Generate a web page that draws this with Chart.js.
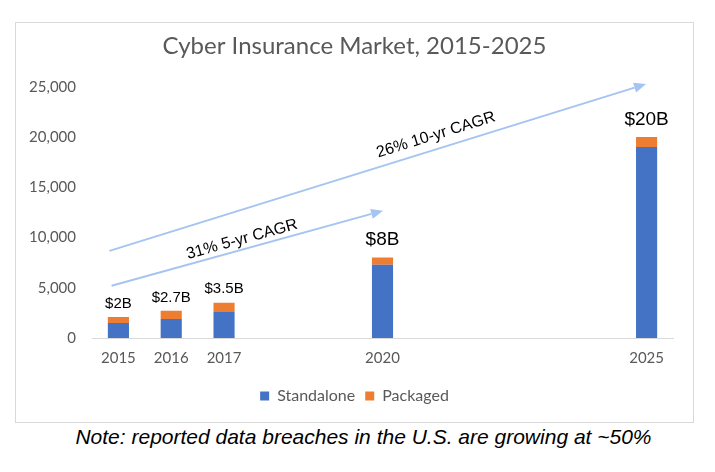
<!DOCTYPE html>
<html>
<head>
<meta charset="utf-8">
<script src="https://cdn.jsdelivr.net/npm/chart.js@4"></script>
<style>
    html, body { margin: 0; padding: 0; background: #fff; }
    #chartBox {
        position: absolute;
        left: 15px; top: 22px;
        width: 677px; height: 399px;
        border: 1px solid #d9d9d9;
    }
    #note {
        position: absolute;
        left: 6px; top: 425px; width: 715px;
        text-align: center;
        font: italic 21px "Liberation Sans", Arial, sans-serif;
        color: #000;
    }
</style>
</head>
<body>
<div id="chartBox"><canvas id="chart" width="677" height="399"></canvas></div>
<div id="note">Note: reported data breaches in the U.S. are growing at ~50%</div>
<script>
'use strict';

// years on the axis (gaps are years with no bar)
const years = ['2015', '2016', '2017', '2018', '2019', '2020', '2021', '2022', '2023', '2024', '2025'];
const standalone = [1500, 1900, 2600, null, null, 7300, null, null, null, null, 19000];
const packaged = [600, 800, 900, null, null, 700, null, null, null, null, 1000];
const totalLabels = ['$2B', '$2.7B', '$3.5B', null, null, '$8B', null, null, null, null, '$20B'];
const yTicks = [0, 5000, 10000, 15000, 20000, 25000];

// growth arrows, in axis units (x = year index, y = value)
const arrows = [
    { from: [-0.17, 8670], to: [9.99, 25270], text: '26% 10-yr CAGR', at: [6.01, 20200] },
    { from: [-0.13, 5200], to: [5.01, 12670], text: '31% 5-yr CAGR', at: [2.34, 9800] }
];

const GRAY = '#595959';
const ARROW_COLOR = '#a6c4f2';

const totalsPlugin = {
    id: 'totals',
    afterDatasetsDraw(chart) {
        const ctx = chart.ctx;
        const x = chart.scales.x;
        const y = chart.scales.y;
        ctx.save();
        ctx.fillStyle = '#000';
        ctx.textAlign = 'center';
        ctx.textBaseline = 'bottom';
        for (let i = 0; i < years.length; i++) {
            if (!totalLabels[i]) continue;
            const total = standalone[i] + packaged[i];
            const big = total >= 5000;
            ctx.font = (big ? 19 : 15) + 'px "Liberation Sans", Arial, sans-serif';
            ctx.fillText(totalLabels[i], x.getPixelForValue(i), y.getPixelForValue(total) - (big ? 8 : 6));
        }
        ctx.restore();
    }
};

const arrowsPlugin = {
    id: 'arrows',
    afterDraw(chart) {
        const ctx = chart.ctx;
        const x = chart.scales.x;
        const y = chart.scales.y;
        ctx.save();
        arrows.forEach((a) => {
            const x0 = x.getPixelForValue(a.from[0]);
            const y0 = y.getPixelForValue(a.from[1]);
            const x1 = x.getPixelForValue(a.to[0]);
            const y1 = y.getPixelForValue(a.to[1]);
            const ang = Math.atan2(y1 - y0, x1 - x0);
            const head = 12;
            ctx.strokeStyle = ARROW_COLOR;
            ctx.fillStyle = ARROW_COLOR;
            ctx.lineWidth = 2;
            ctx.beginPath();
            ctx.moveTo(x0, y0);
            ctx.lineTo(x1 - head * Math.cos(ang), y1 - head * Math.sin(ang));
            ctx.stroke();
            ctx.beginPath();
            ctx.moveTo(x1, y1);
            ctx.lineTo(x1 - head * Math.cos(ang) + 5 * Math.sin(ang), y1 - head * Math.sin(ang) - 5 * Math.cos(ang));
            ctx.lineTo(x1 - head * Math.cos(ang) - 5 * Math.sin(ang), y1 - head * Math.sin(ang) + 5 * Math.cos(ang));
            ctx.closePath();
            ctx.fill();

            ctx.save();
            ctx.translate(x.getPixelForValue(a.at[0]), y.getPixelForValue(a.at[1]));
            ctx.rotate(ang);
            ctx.fillStyle = '#000';
            ctx.font = '16px "Liberation Sans", Arial, sans-serif';
            ctx.textAlign = 'center';
            ctx.textBaseline = 'middle';
            ctx.fillText(a.text, 0, 0);
            ctx.restore();
        });
        ctx.restore();
    }
};

new Chart(document.getElementById('chart'), {
    type: 'bar',
    data: {
        labels: years,
        datasets: [
            { label: 'Standalone', data: standalone, backgroundColor: '#4472c4' },
            { label: 'Packaged', data: packaged, backgroundColor: '#ed7d31' }
        ]
    },
    options: {
        responsive: false,
        animation: false,
        barPercentage: 0.4,
        categoryPercentage: 1.0,
        layout: { padding: { left: 0, right: 0, top: 0, bottom: 8 } },
        plugins: {
            title: {
                display: true,
                text: 'Cyber Insurance Market, 2015-2025',
                color: GRAY,
                font: { family: 'Lato', size: 24, weight: 'normal' },
                padding: { top: 9, bottom: 26 }
            },
            legend: {
                position: 'bottom',
                labels: {
                    color: GRAY,
                    font: { family: 'Lato', size: 16 },
                    boxWidth: 9,
                    boxHeight: 9,
                    padding: 10
                }
            },
            tooltip: { enabled: false }
        },
        scales: {
            x: {
                stacked: true,
                grid: { display: false, drawTicks: false },
                border: { display: true, color: '#d9d9d9', width: 1 },
                ticks: {
                    color: GRAY,
                    font: { family: 'Lato', size: 15 },
                    padding: 11,
                    autoSkip: false,
                    maxRotation: 0,
                    callback: (v, i) => (standalone[i] === null ? '' : years[i])
                }
            },
            y: {
                stacked: true,
                min: 0,
                max: 25000,
                afterFit: (scale) => { scale.width = 76; },
                afterBuildTicks: (scale) => { scale.ticks = yTicks.map((v) => ({ value: v })); },
                grid: { display: false, drawTicks: false },
                border: { display: false },
                ticks: {
                    color: GRAY,
                    font: { family: 'Lato', size: 15 },
                    padding: 16,
                    callback: (v) => v.toLocaleString('en-US')
                }
            },
            // empty right margin so title and legend stay centred on the whole box
            gap: {
                position: 'right',
                min: 0,
                max: 1,
                afterFit: (scale) => { scale.width = 20; },
                grid: { display: false, drawTicks: false },
                border: { display: false },
                ticks: { display: false }
            }
        }
    },
    plugins: [totalsPlugin, arrowsPlugin]
});
</script>
</body>
</html>
